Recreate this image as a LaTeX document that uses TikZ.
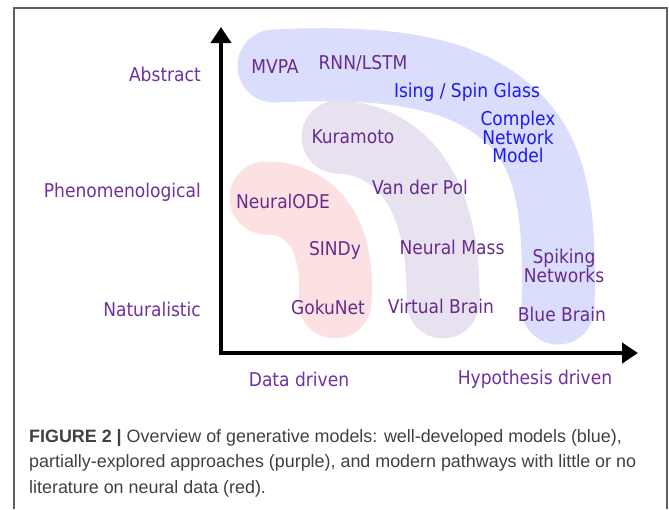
\documentclass[tikz,border=0pt]{standalone}
\usepackage{fontspec}
\usepackage{tikz}
\usetikzlibrary{arrows.meta}

\newfontfamily\labelfont{DejaVu Sans Condensed}
\newfontfamily\capfont{Liberation Sans}

\definecolor{axispurple}{RGB}{112,48,160}
\definecolor{modelpurple}{RGB}{104,44,140}
\definecolor{modelblue}{RGB}{28,28,240}
\definecolor{blueband}{RGB}{218,221,251}
\definecolor{purpleband}{RGB}{232,226,240}
\definecolor{redband}{RGB}{251,225,226}
\definecolor{captext}{RGB}{64,64,64}
\definecolor{framegray}{RGB}{95,95,95}

\begin{document}
\begin{tikzpicture}[x=1pt, y=-1pt,
    band/.style={line width=73pt, line cap=round},
    tag/.style={font=\labelfont\fontsize{19}{19}\selectfont, text=modelpurple, inner sep=0pt, align=center},
    axislabel/.style={font=\labelfont\fontsize{19}{19}\selectfont, text=axispurple, inner sep=0pt},
    axis/.style={line width=4pt, {Triangle[length=16pt,width=20pt]}-{Triangle[length=16pt,width=20pt]}}]
    \useasboundingbox (0,0) rectangle (669,509);

    % Frame
    \draw[framegray, line width=1.5pt] (14,509) -- (14,8) -- (667,8) -- (667,509);

    % Bands
    \draw[band, blueband] (274,66) .. controls (400,60) and (470,75) .. (515,120)
        .. controls (555,160) and (560,220) .. (558,308);
    \draw[band, purpleband] (338,137) .. controls (400,140) and (445,190) .. (443,302);
    \draw[band, redband] (266,198) .. controls (312,198) and (340,235) .. (335,302);

    % Axes
    \coordinate (origin) at (221,353);
    \coordinate (ytip) at (221,27);
    \coordinate (xtip) at (638,353);
    \draw[axis] (ytip) -- (origin) -- (xtip);

    \node[axislabel, anchor=east] (abstract) at (201,74) {Abstract};
    \node[axislabel, anchor=east] (phenom) at (201,192) {Phenomenological};
    \node[axislabel, anchor=east] (natural) at (201,309) {Naturalistic};
    \node[axislabel] (datadriven) at (299,379) {Data driven};
    \node[axislabel] (hypodriven) at (535,379) {Hypothesis driven};

    % Models
    \node[tag] (mvpa) at (275,67) {MVPA};
    \node[tag] (rnn) at (363,63) {RNN/LSTM};
    \node[tag, text=modelblue] (ising) at (467,92) {Ising / Spin Glass};
    \node[tag, text=modelblue, font=\labelfont\fontsize{19}{18}\selectfont] (complex) at (518,137) {Complex\\Network\\Model};
    \node[tag] (kuramoto) at (353,137) {Kuramoto};
    \node[tag] (vdp) at (420,187) {Van der Pol};
    \node[tag] (neuralode) at (283,201) {NeuralODE};
    \node[tag] (sindy) at (335,250) {SINDy};
    \node[tag] (neuralmass) at (452,247) {Neural Mass};
    \node[tag, font=\labelfont\fontsize{19}{19}\selectfont] (spiking) at (564,266) {Spiking\\Networks};
    \node[tag] (gokunet) at (328,307) {GokuNet};
    \node[tag] (virtualbrain) at (441,306) {Virtual Brain};
    \node[tag] (bluebrain) at (562,314) {Blue Brain};

    % Caption
    \node[anchor=north west, inner sep=0pt, align=left, text=captext,
        font=\capfont\fontsize{17.9}{25.5}\selectfont] (caption) at (29,429)
        {\textbf{FIGURE 2 |} Overview of generative models: well-developed models (blue),\\
         partially-explored approaches (purple), and modern pathways with little or no\\
         literature on neural data (red).};
\end{tikzpicture}
\end{document}
